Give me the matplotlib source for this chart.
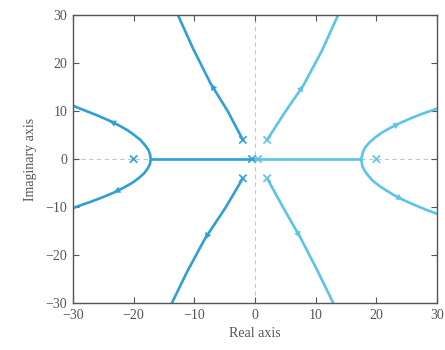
import matplotlib
matplotlib.use('Agg')
import matplotlib.pyplot as plt

# Root locus branches (real, imag), each listed from pole outward
upper_left_re = [-2.0, -4.5, -7.3, -10.2, -12.7]
upper_left_im = [4.0, 10.0, 15.7, 23.0, 30.0]
lower_left_re = [-2.0, -4.8, -8.3, -11.2, -13.7]
lower_left_im = [-4.0, -10.0, -16.7, -23.5, -30.0]
upper_right_re = [2.0, 4.8, 8.0, 11.0, 13.7]
upper_right_im = [4.0, 9.5, 15.4, 22.5, 30.0]
lower_right_re = [2.0, 4.6, 7.5, 10.2, 12.9]
lower_right_im = [-4.0, -10.0, -16.4, -23.0, -30.0]

# Breakaway arcs, top end -> vertex on the real axis -> bottom end
left_arc_re = [-30.0, -27.8, -25.8, -24.0, -22.4, -21.0, -19.9, -18.9, -18.2, -17.6, -17.3, -17.2,
               -17.3, -17.7, -18.3, -19.2, -20.3, -21.7, -23.3, -25.2, -27.3, -29.6, -30.0]
left_arc_im = [11.1, 10.0, 9.0, 8.0, 7.0, 6.0, 5.0, 4.0, 3.0, 2.0, 1.0, 0.0,
               -1.0, -2.0, -3.0, -4.0, -5.0, -6.0, -7.0, -8.0, -9.0, -10.0, -10.3]
right_arc_re = [30.0, 27.7, 25.7, 23.9, 22.3, 20.9, 19.8, 18.9, 18.2, 17.8, 17.5,
                17.7, 18.1, 18.7, 19.4, 20.4, 21.6, 22.9, 24.4, 26.2, 28.1, 30.0]
right_arc_im = [10.5, 9.5, 8.5, 7.5, 6.5, 5.5, 4.5, 3.5, 2.5, 1.5, 0.0,
                -1.5, -2.5, -3.5, -4.5, -5.5, -6.5, -7.5, -8.5, -9.5, -10.5, -11.4]

axis_left_re = [-17.2, 0.0]
axis_right_re = [0.0, 17.5]

# Open-loop poles
pole_re = [-20.0, -0.5, 0.5, 20.0, -2.0, -2.0, 2.0, 2.0]
pole_im = [0.0, 0.0, 0.0, 0.0, 4.0, -4.0, 4.0, -4.0]

dark_blue = '#2f9fd8'
light_blue = '#5cc3ea'
axis_gray = '#555555'

plt.rcParams['font.family'] = ['Liberation Serif', 'DejaVu Serif']
plt.rcParams['axes.unicode_minus'] = True

fig = plt.figure(figsize=(4.45, 3.5), dpi=100)
ax = fig.add_axes([0.164, 0.134, 0.818, 0.823])

# Dashed reference axes
ax.axhline(0, color='#c8c8c8', linestyle=(0, (4, 3)), linewidth=0.8, zorder=1)
ax.axvline(0, color='#c8c8c8', linestyle=(0, (4, 3)), linewidth=0.8, zorder=1)

lw = 1.9
ax.plot(upper_left_re, upper_left_im, color=dark_blue, lw=lw, zorder=2)
ax.plot(lower_left_re, lower_left_im, color=dark_blue, lw=lw, zorder=2)
ax.plot(left_arc_re, left_arc_im, color=dark_blue, lw=lw, zorder=2)
ax.plot(axis_left_re, [0, 0], color=dark_blue, lw=lw, zorder=2)
ax.plot(upper_right_re, upper_right_im, color=light_blue, lw=lw, zorder=2)
ax.plot(lower_right_re, lower_right_im, color=light_blue, lw=lw, zorder=2)
ax.plot(right_arc_re, right_arc_im, color=light_blue, lw=lw, zorder=2)
ax.plot(axis_right_re, [0, 0], color=light_blue, lw=lw, zorder=2)


def add_arrow(re, im, i, color):
    # small arrowhead on the branch pointing away from the pole
    ax.annotate('', xy=(re[i], im[i]),
                xytext=(re[i - 1] + 0.7 * (re[i] - re[i - 1]),
                        im[i - 1] + 0.7 * (im[i] - im[i - 1])),
                arrowprops=dict(arrowstyle='-|>', color=color, lw=0,
                                mutation_scale=12, shrinkA=0, shrinkB=0),
                zorder=3)


add_arrow(upper_left_re, upper_left_im, 2, dark_blue)
add_arrow(lower_left_re, lower_left_im, 2, dark_blue)
add_arrow(upper_right_re, upper_right_im, 2, light_blue)
add_arrow(lower_right_re, lower_right_im, 2, light_blue)
add_arrow(left_arc_re[::-1], left_arc_im[::-1], 19, dark_blue)
add_arrow(left_arc_re, left_arc_im, 18, dark_blue)
add_arrow(right_arc_re[::-1], right_arc_im[::-1], 18, light_blue)
add_arrow(right_arc_re, right_arc_im, 18, light_blue)

pole_colors = [dark_blue, dark_blue, light_blue, light_blue,
               dark_blue, dark_blue, light_blue, light_blue]
ax.scatter(pole_re, pole_im, marker='x', s=28, c=pole_colors,
           linewidths=1.2, zorder=4)

ax.set_xlim(-30, 30)
ax.set_ylim(-30, 30)
ax.set_xticks([-30, -20, -10, 0, 10, 20, 30])
ax.set_yticks([-30, -20, -10, 0, 10, 20, 30])
ax.tick_params(direction='in', length=4, width=0.8, top=True, right=True,
               labelsize=10, labelcolor='#555555', color=axis_gray, pad=4)
for spine in ax.spines.values():
    spine.set_color(axis_gray)
    spine.set_linewidth(1.0)

ax.set_xlabel('Real axis', fontsize=10, color='#555555', labelpad=4)
ax.set_ylabel('Imaginary axis', fontsize=10, color='#555555', labelpad=6)

fig.savefig('out.png', dpi=100)
